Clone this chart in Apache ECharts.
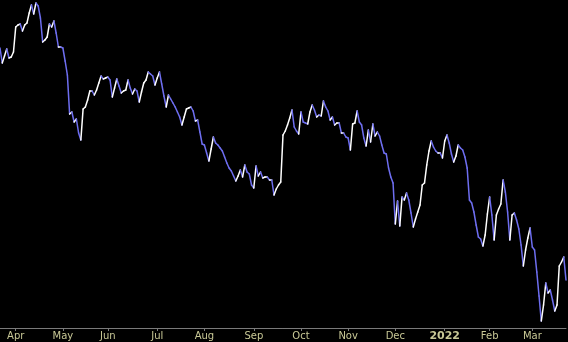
<!DOCTYPE html>
<html>
<head>
<meta charset="utf-8">
<script src="https://cdn.jsdelivr.net/npm/echarts@6/dist/echarts.min.js"></script>
<style>
html,body{margin:0;padding:0;background:#000;}
#c{width:568px;height:342px;}
</style>
</head>
<body>
<div id="c"></div>
<script>
// Trading calendar (NYSE) for the period shown
const startDate = '2021-03-23';
const endDate = '2022-03-22';
const holidays = ['2021-04-02','2021-05-31','2021-07-05','2021-09-06','2021-11-25','2021-12-24','2022-01-17','2022-02-21'];
const monthNames = ['Jan','Feb','Mar','Apr','May','Jun','Jul','Aug','Sep','Oct','Nov','Dec'];

// Daily closing values
const closes = [
280,265,272,279,270,271,276,301,303,304,297,303,305,315,323,314,325,322,310,286,
288,291,304,301,307,295,281,281,280,267,253,214,216,206,209,195,188,219,221,228,
237,237,233,238,245,252,249,250,251,248,231,240,249,242,235,237,238,248,240,234,
239,237,226,236,245,248,256,254,252,243,250,256,244,232,221,233,229,225,221,216,
211,203,211,219,220,221,217,207,208,196,184,183,175,167,179,191,185,183,180,177,
171,165,160,157,152,147,152,158,151,163,156,154,143,140,162,152,156,150,151,151,
148,148,133,139,143,146,193,197,203,210,218,201,197,194,216,206,205,204,216,223,
218,211,213,212,227,221,217,208,211,203,205,205,195,195,191,190,178,204,205,217,
206,203,190,182,198,186,204,192,196,192,183,175,174,160,151,145,104,127,102,131,
128,135,128,115,101,109,116,123,143,145,163,177,187,181,177,175,175,170,187,193,
185,174,166,172,183,180,178,171,160,128,125,116,103,91,89,82,93,114,131,113,
88,113,119,124,148,136,116,88,113,115,108,99,83,62,78,90,100,81,78,56,
32,7,23,45,35,38,28,17,23,62,66,71,48
];

function fmt(d){
  const m = d.getUTCMonth()+1, day = d.getUTCDate();
  return d.getUTCFullYear()+'-'+(m<10?'0':'')+m+'-'+(day<10?'0':'')+day;
}
const dates = [];
for (let d = new Date(startDate+'T00:00:00Z'); fmt(d) <= endDate; d.setUTCDate(d.getUTCDate()+1)) {
  const wd = d.getUTCDay();
  const s = fmt(d);
  if (wd !== 0 && wd !== 6 && holidays.indexOf(s) < 0) dates.push(s);
}

function isMonthStart(i){
  if (i <= 0) return false;
  return dates[i].slice(5,7) !== dates[i-1].slice(5,7);
}

const segments = [];
for (let i = 0; i < closes.length - 1; i++) {
  segments.push([i, closes[i], closes[i+1]]);
}

const upColor = '#ffffff';
const downColor = '#6e6ef0';

const chart = echarts.init(document.getElementById('c'), null, {renderer:'canvas'});
chart.setOption({
  backgroundColor: '#000000',
  animation: false,
  grid: {left: 0, right: 2, top: 0, bottom: 14, containLabel: false},
  xAxis: {
    type: 'category',
    data: dates,
    boundaryGap: false,
    axisLine: {show: true, lineStyle: {color: '#7a7a7a', width: 1}},
    axisTick: {show: true, length: 3, interval: (i) => isMonthStart(i), lineStyle: {color: '#7a7a7a'}},
    axisLabel: {
      interval: (i) => isMonthStart(i),
      margin: 3,
      color: '#c8c896',
      fontFamily: 'DejaVu Sans',
      fontSize: 10,
      formatter: function (v) {
        const m = parseInt(v.slice(5,7), 10);
        if (m === 1) return '{y|' + v.slice(0,4) + '}';
        return monthNames[m-1];
      },
      rich: {y: {fontWeight: 'bold', color: '#c8c896', fontFamily: 'DejaVu Sans', fontSize: 11}}
    },
    splitLine: {show: false}
  },
  yAxis: {
    type: 'value', min: 0, max: 328, show: false, splitLine: {show: false}
  },
  series: [{
    type: 'custom',
    data: segments,
    encode: {x: 0, y: [1, 2]},
    clip: false,
    renderItem: function (params, api) {
      const i = api.value(0);
      const a = api.value(1), b = api.value(2);
      const p0 = api.coord([i, a]);
      const p1 = api.coord([i + 1, b]);
      return {
        type: 'line',
        shape: {x1: p0[0], y1: p0[1], x2: p1[0], y2: p1[1]},
        style: {stroke: b >= a ? upColor : downColor, lineWidth: 1.5, lineCap: 'round'}
      };
    }
  }]
});
</script>
</body>
</html>
